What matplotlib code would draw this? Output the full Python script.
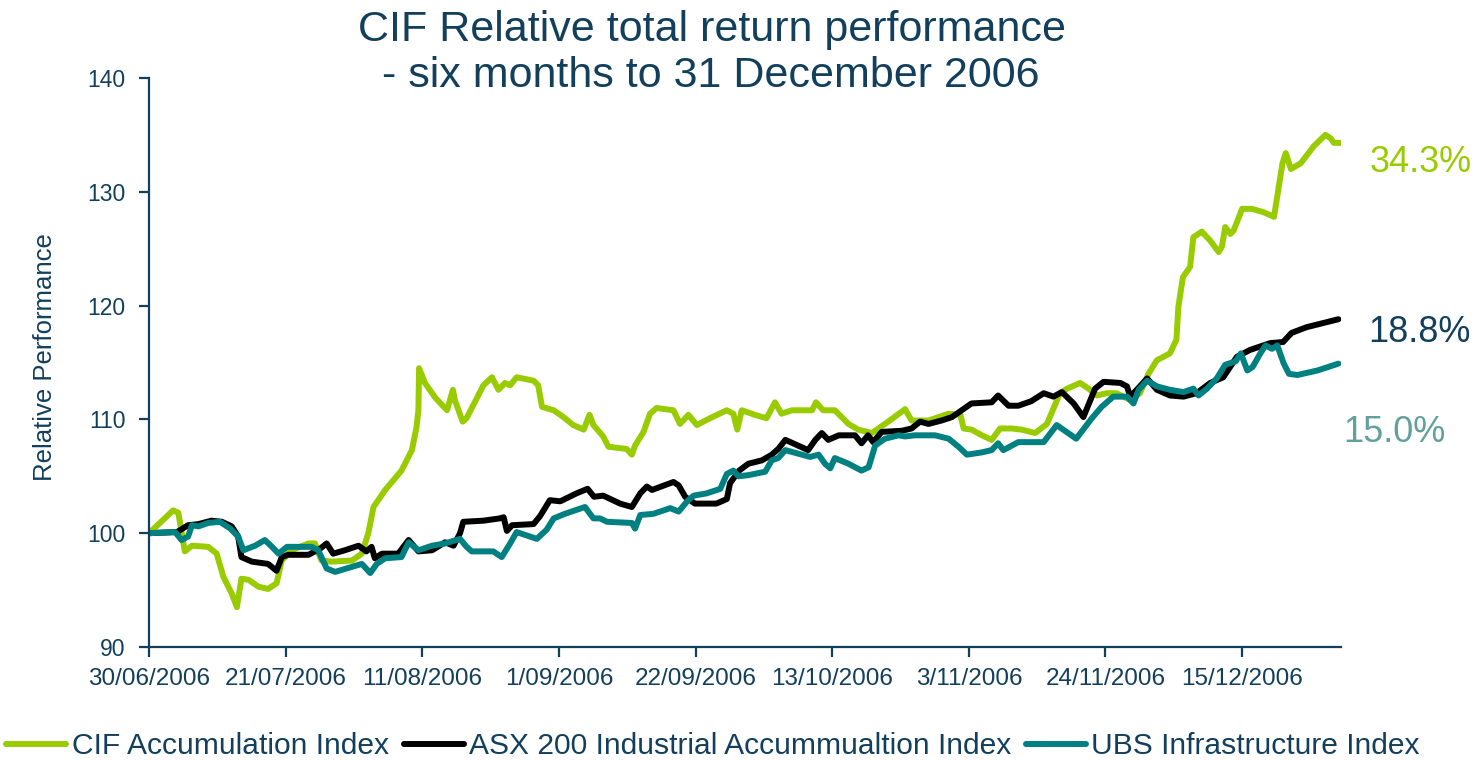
import datetime as dt
import matplotlib
matplotlib.use("Agg")
import matplotlib.pyplot as plt
import matplotlib.dates as mdates
from matplotlib.ticker import FuncFormatter, MultipleLocator

plt.rcParams['font.family'] = ['Liberation Sans', 'DejaVu Sans']

start = dt.datetime(2006, 6, 30)

# day offsets from 30/06/2006 and index values
cif_day = [0, 3.7, 4.5, 5.5, 6.6, 9.1, 10.4, 11.4, 12.7, 13.5, 14.2, 15.3, 16.8, 18.3,
           19.6, 20.4, 21.9, 24.5, 25.5, 26.5, 28.1, 31.2, 32.7, 33.7, 34.5, 36.3, 38.8,
           40.4, 41.1, 41.4, 41.5, 42.4, 44.0, 45.8, 46.7, 47.0, 48.2, 48.8, 51.4, 52.7,
           53.7, 54.7, 55.5, 56.5, 59.1, 59.8, 60.4, 62.2, 63.7, 65.2, 66.8, 67.7, 68.3,
           69.8, 70.6, 73.4, 74.2, 74.7, 76.0, 77.0, 78.0, 80.6, 81.6, 82.9, 84.2, 86.2,
           88.8, 89.8, 90.4, 91.1, 93.1, 94.9, 96.2, 97.2, 98.8, 101.9, 102.5, 103.6,
           105.4, 107.5, 109.0, 111.1, 113.6, 116.2, 117.2, 119.8, 122.9, 124.7, 125.2,
           126.4, 128.0, 129.5, 130.8, 132.6, 134.1, 136.2, 138.0, 140.0, 141.1, 143.1,
           144.4, 145.7, 147.2, 148.7, 150.8, 152.3, 153.6, 154.9, 156.9, 157.9, 158.2,
           158.9, 160.0, 160.5, 161.8, 163.1, 164.4, 164.9, 165.4, 166.2, 166.7, 168.0,
           169.5, 171.3, 172.9, 173.4, 174.2, 174.7, 175.5, 177.0, 179.0, 180.8, 181.6,
           182.1, 183.1]
cif_val = [100.0, 102.0, 101.8, 98.4, 98.9, 98.8, 98.2, 96.2, 94.7, 93.5, 96.0, 95.9, 95.3,
           95.1, 95.6, 97.6, 98.5, 99.1, 99.1, 97.6, 97.5, 97.6, 98.2, 100.0, 102.3, 103.8,
           105.5, 107.3, 109.3, 110.8, 114.5, 113.2, 111.9, 110.8, 112.6, 111.7, 109.8,
           110.1, 113.0, 113.7, 112.6, 113.2, 113.0, 113.7, 113.4, 113.0, 111.1, 110.8,
           110.2, 109.5, 109.1, 110.4, 109.5, 108.5, 107.6, 107.4, 106.9, 107.7, 108.9,
           110.5, 111.0, 110.8, 109.6, 110.4, 109.5, 110.1, 110.8, 110.5, 109.1, 110.8,
           110.4, 110.1, 111.5, 110.5, 110.8, 110.8, 111.5, 110.8, 110.8, 109.6, 109.1,
           108.8, 109.8, 110.9, 109.9, 109.9, 110.5, 110.4, 109.2, 109.1, 108.6, 108.2,
           109.2, 109.2, 109.1, 108.8, 109.6, 112.3, 112.7, 113.2, 112.7, 112.1, 112.3,
           112.3, 111.7, 112.3, 114.0, 115.2, 115.8, 117.0, 119.9, 122.5, 123.4, 126.0,
           126.5, 125.7, 124.7, 125.2, 126.9, 126.3, 126.6, 128.5, 128.5, 128.2, 127.8,
           129.6, 132.5, 133.4, 132.0, 132.5, 134.0, 135.0, 134.7, 134.3, 134.3]

asx_day = [0, 4.3, 6.0, 7.6, 9.6, 11.2, 12.7, 13.7, 14.2, 15.8, 18.3, 19.6, 20.4, 21.4,
           24.5, 25.5, 26.0, 27.3, 28.3, 30.1, 32.2, 33.4, 34.2, 34.7, 35.8, 38.3, 39.9,
           41.4, 43.5, 45.5, 46.8, 47.8, 48.3, 51.4, 53.9, 54.5, 55.0, 55.8, 59.1, 60.1,
           61.6, 63.2, 65.7, 67.4, 68.4, 69.8, 72.4, 74.2, 75.5, 76.5, 77.3, 80.6, 81.4,
           82.4, 83.9, 87.2, 88.8, 89.3, 90.7, 92.1, 94.2, 95.7, 96.7, 97.8, 101.3, 102.4,
           103.4, 104.4, 106.0, 108.5, 109.5, 110.5, 111.3, 112.6, 115.7, 117.2, 118.5,
           119.8, 121.8, 123.4, 124.9, 126.4, 129.5, 130.5, 132.1, 133.6, 135.6, 137.5,
           139.0, 140.3, 142.1, 143.6, 145.4, 146.7, 149.3, 150.3, 150.8, 151.8, 153.4,
           154.9, 156.9, 159.0, 161.0, 163.1, 165.1, 167.2, 169.2, 172.3, 174.3, 175.6,
           177.9, 180.0, 182.8]
asx_val = [100.0, 100.1, 100.7, 100.8, 101.1, 101.0, 100.6, 99.7, 97.9, 97.5, 97.3, 96.7,
           97.9, 98.1, 98.1, 98.4, 98.5, 99.1, 98.2, 98.5, 98.9, 98.4, 98.8, 97.8, 98.2,
           98.2, 99.4, 98.4, 98.5, 99.2, 98.9, 100.0, 101.0, 101.1, 101.3, 101.4, 100.2,
           100.7, 100.8, 101.5, 102.9, 102.8, 103.5, 103.9, 103.2, 103.3, 102.6, 102.3,
           103.5, 104.1, 103.8, 104.5, 104.2, 103.2, 102.6, 102.6, 103.0, 104.4, 105.5,
           106.1, 106.4, 106.9, 107.4, 108.2, 107.3, 108.2, 108.8, 108.2, 108.6, 108.6,
           107.9, 108.6, 108.0, 108.9, 109.0, 109.2, 109.8, 109.6, 109.9, 110.2, 110.8,
           111.4, 111.5, 112.1, 111.2, 111.2, 111.6, 112.3, 112.0, 112.4, 111.4, 110.2,
           112.7, 113.3, 113.2, 112.9, 112.0, 112.6, 113.6, 112.6, 112.1, 112.0, 112.3,
           113.2, 113.7, 115.5, 116.1, 116.7, 116.8, 117.6, 118.1, 118.4, 118.8]

ubs_day = [0, 4.0, 5.0, 6.0, 6.6, 7.6, 9.1, 10.9, 12.5, 13.7, 14.5, 16.3, 17.8, 18.9,
           19.9, 21.2, 25.0, 26.0, 27.3, 28.6, 32.7, 34.0, 35.0, 36.3, 38.8, 39.9, 41.4,
           43.5, 45.5, 47.8, 48.8, 49.6, 52.9, 54.2, 55.5, 56.5, 59.6, 61.1, 62.2, 63.9,
           67.0, 68.3, 69.3, 70.4, 74.2, 74.7, 75.5, 77.5, 80.1, 81.4, 82.7, 83.7, 85.7,
           87.8, 88.8, 89.8, 90.6, 92.1, 94.7, 95.7, 96.7, 97.8, 101.6, 102.9, 103.9,
           104.7, 105.4, 107.5, 109.5, 110.6, 111.6, 113.1, 115.2, 116.2, 117.7, 120.8,
           122.9, 124.4, 125.7, 128.0, 129.5, 130.5, 131.3, 133.6, 136.2, 137.5, 139.5,
           142.5, 144.9, 146.4, 148.2, 150.3, 151.3, 152.1, 153.4, 154.9, 156.9, 159.0,
           160.5, 161.3, 162.6, 164.1, 165.4, 167.0, 167.8, 168.8, 169.6, 170.8, 171.6,
           172.6, 173.4, 174.4, 175.2, 176.5, 179.6, 182.8]
ubs_val = [100.0, 100.1, 99.4, 99.7, 100.7, 100.6, 100.9, 101.0, 100.4, 99.7, 98.5, 98.9,
           99.4, 98.8, 98.2, 98.8, 98.8, 98.5, 96.9, 96.6, 97.3, 96.5, 97.3, 97.8, 97.9,
           99.2, 98.5, 98.9, 99.1, 99.5, 98.8, 98.4, 98.4, 97.9, 99.1, 100.1, 99.5, 100.3,
           101.3, 101.7, 102.3, 101.3, 101.3, 101.0, 100.9, 100.4, 101.6, 101.7, 102.2,
           101.9, 102.8, 103.3, 103.5, 103.9, 105.2, 105.5, 105.0, 105.1, 105.4, 106.4,
           106.6, 107.3, 106.7, 106.9, 106.1, 105.7, 106.6, 106.1, 105.5, 105.8, 107.7,
           108.3, 108.6, 108.5, 108.6, 108.6, 108.3, 107.6, 106.9, 107.1, 107.3, 107.9,
           107.3, 108.0, 108.0, 108.0, 109.5, 108.3, 110.1, 111.1, 112.0, 112.0, 111.4,
           112.6, 113.4, 112.9, 112.6, 112.4, 112.7, 112.1, 112.7, 113.6, 114.8, 115.1,
           115.8, 114.3, 114.6, 115.8, 116.5, 116.2, 116.5, 114.9, 114.0, 113.9, 114.3,
           114.9]

series_names = ['CIF Accumulation Index', 'ASX 200 Industrial Accummualtion Index',
                'UBS Infrastructure Index']
end_labels = ['34.3%', '18.8%', '15.0%']

navy = '#123f5c'
green = '#99cc00'
teal = '#008080'


def to_dates(days):
    return [start + dt.timedelta(days=d) for d in days]


fig = plt.figure(figsize=(14.8, 7.6), dpi=100)
ax = fig.add_axes([0.1007, 0.1487, 0.8054, 0.7487])

line_kw = dict(lw=4.3, solid_joinstyle='round', solid_capstyle='round')
l1, = ax.plot(to_dates(cif_day), cif_val, color=green, **line_kw)
l2, = ax.plot(to_dates(asx_day), asx_val, color='black', **line_kw)
l3, = ax.plot(to_dates(ubs_day), ubs_val, color=teal, **line_kw)

ax.set_ylim(90, 140)
ax.yaxis.set_major_locator(MultipleLocator(10))
ax.set_xlim(start, start + dt.timedelta(days=183.2))
ax.set_xticks(to_dates(range(0, 169, 21)))
ax.xaxis.set_major_formatter(FuncFormatter(
    lambda v, p: '{}/{:02d}/{}'.format(mdates.num2date(v).day, mdates.num2date(v).month,
                                       mdates.num2date(v).year)))

for s in ['top', 'right']:
    ax.spines[s].set_visible(False)
for s in ['left', 'bottom']:
    ax.spines[s].set_color(navy)
    ax.spines[s].set_linewidth(1.6)
ax.tick_params(axis='both', direction='out', length=7, width=1.6, color=navy,
               labelcolor=navy)
ax.tick_params(axis='y', pad=10, labelsize=16.5)
ax.tick_params(axis='x', pad=8, labelsize=17.5)

fig.text(0.481, 1 - 41 / 760, 'CIF Relative total return performance', ha='center',
         va='baseline', fontsize=31, color=navy)
fig.text(0.480, 1 - 87 / 760, '- six months to 31 December 2006', ha='center',
         va='baseline', fontsize=31, color=navy)
fig.text(45 / 1480, 1 - 357 / 760, 'Relative Performance', rotation=90, ha='center',
         va='center', fontsize=18.5, color=navy)

fig.text(1370 / 1480, 1 - 172 / 760, end_labels[0], fontsize=26, color=green,
         va='baseline')
fig.text(1368 / 1480, 1 - 342 / 760, end_labels[1], fontsize=26, color=navy,
         va='baseline')
fig.text(1343 / 1480, 1 - 442 / 760, end_labels[2], fontsize=26, color='#62a09c',
         va='baseline')

leg = fig.legend([l1, l2, l3], series_names, loc='center',
                 bbox_to_anchor=(713 / 1480, 1 - 746 / 760), ncol=3, frameon=False,
                 handlelength=2.0, handletextpad=0.17, columnspacing=0.5,
                 fontsize=21.6)
for t in leg.get_texts():
    t.set_color(navy)

fig.savefig('out.png', dpi=100)
